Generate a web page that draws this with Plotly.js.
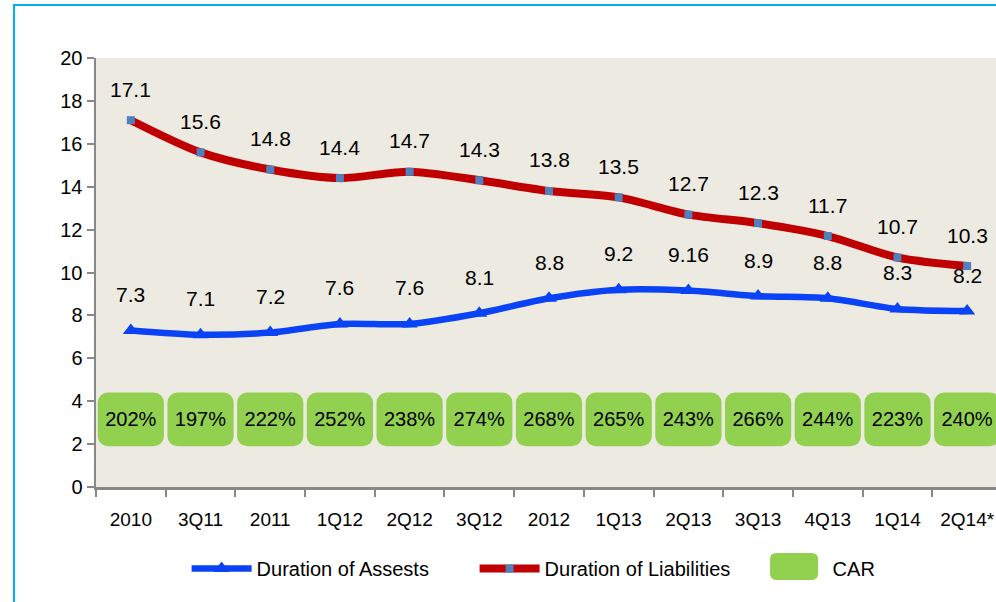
<!DOCTYPE html>
<html>
<head>
<meta charset="utf-8">
<script src="https://cdn.plot.ly/plotly-3.0.1.min.js"></script>
<style>
  html, body { margin: 0; padding: 0; background: #ffffff; overflow: hidden; width: 996px; height: 602px; }
  #frame { position: absolute; left: 13px; top: 4px; width: 1300px; height: 700px; border-left: 2px solid #00B0F0; border-top: 2px solid #00B0F0; }
  #chart { position: absolute; left: 0; top: 0; width: 1200px; height: 602px; }
</style>
</head>
<body>
<div id="frame"></div>
<div id="chart"></div>
<script>
const categories = ["2010","3Q11","2011","1Q12","2Q12","3Q12","2012","1Q13","2Q13","3Q13","4Q13","1Q14","2Q14*"];
const assets = [7.3, 7.1, 7.2, 7.6, 7.6, 8.1, 8.8, 9.2, 9.16, 8.9, 8.8, 8.3, 8.2];
const liabilities = [17.1, 15.6, 14.8, 14.4, 14.7, 14.3, 13.8, 13.5, 12.7, 12.3, 11.7, 10.7, 10.3];
const car = [202, 197, 222, 252, 238, 274, 268, 265, 243, 266, 244, 223, 240];
const yTicks = [0, 2, 4, 6, 8, 10, 12, 14, 16, 18, 20];

const SANS = '"Liberation Sans", Arial, sans-serif';

const boxBase = 1.9, boxHeight = 2.5;

const traces = [
  {
    type: 'scatter', mode: 'lines+markers', name: 'Duration of Assests',
    x: categories, y: assets,
    line: { color: '#0A43F5', width: 6.5, shape: 'spline', smoothing: 0.8 },
    marker: { symbol: 'triangle-up', size: 14, color: '#0A43F5' },
    hoverinfo: 'skip'
  },
  {
    type: 'scatter', mode: 'lines+markers', name: 'Duration of Liabilities',
    x: categories, y: liabilities,
    line: { color: '#C00000', width: 8, shape: 'spline', smoothing: 0.8 },
    marker: { symbol: 'square', size: 8, color: '#4F81BD' },
    hoverinfo: 'skip'
  },
  {
    type: 'bar', name: 'CAR',
    x: categories, y: car.map(() => boxHeight), base: boxBase,
    width: 0.95,
    marker: { color: '#92D050', cornerradius: 10, line: { width: 0 } },
    text: car.map(v => v + '%'),
    textposition: 'inside', insidetextanchor: 'middle', textangle: 0,
    textfont: { family: SANS, size: 20, color: '#000000' },
    constraintext: 'none',
    hoverinfo: 'skip'
  }
];

const annotations = [];
categories.forEach((c, i) => {
  annotations.push({ x: i, y: liabilities[i], text: String(liabilities[i]), showarrow: false, yshift: 31,
    font: { family: SANS, size: 21, color: '#000000' } });
  annotations.push({ x: i, y: assets[i], text: String(assets[i]), showarrow: false, yshift: 36,
    font: { family: SANS, size: 21, color: '#000000' } });
});

// enlarged rounded swatch behind the CAR legend symbol (paper coordinates)
function roundedRectPath(x0, y0, x1, y1, rx, ry) {
  return `M${x0 + rx},${y0} L${x1 - rx},${y0} Q${x1},${y0} ${x1},${y0 + ry} ` +
         `L${x1},${y1 - ry} Q${x1},${y1} ${x1 - rx},${y1} L${x0 + rx},${y1} Q${x0},${y1} ${x0},${y1 - ry} ` +
         `L${x0},${y0 + ry} Q${x0},${y0} ${x0 + rx},${y0} Z`;
}

const layout = {
  width: 1200, height: 602,
  margin: { l: 96, r: 198, t: 58, b: 115 },
  paper_bgcolor: 'rgba(0,0,0,0)',
  plot_bgcolor: '#EDEAE1',
  showlegend: true,
  legend: {
    orientation: 'h', x: 0.1, xanchor: 'left', y: -0.1445, yanchor: 'top',
    font: { family: SANS, size: 20, color: '#000000' },
    traceorder: 'normal', itemwidth: 60, entrywidth: 213, entrywidthmode: 'pixels'
  },
  xaxis: {
    type: 'category', range: [-0.5, 12.5],
    showline: true, linecolor: '#888888', linewidth: 2.5,
    ticks: 'outside', tickson: 'boundaries', ticklen: 7, tickwidth: 2, tickcolor: '#888888',
    ticklabelstandoff: 14,
    tickfont: { family: SANS, size: 19, color: '#000000' },
    showgrid: false, zeroline: false, fixedrange: true
  },
  yaxis: {
    range: [0, 20], tickvals: yTicks, ticktext: yTicks.map(String),
    showline: true, linecolor: '#888888', linewidth: 2.5,
    ticks: 'outside', ticklen: 7, tickwidth: 2, tickcolor: '#888888',
    tickfont: { family: SANS, size: 20, color: '#000000' },
    showgrid: false, zeroline: false, fixedrange: true
  },
  shapes: [
    { type: 'path', xref: 'paper', yref: 'paper', layer: 'above',
      path: roundedRectPath(0.744, -0.2168, 0.797, -0.1538, 0.007, 0.015),
      fillcolor: '#92D050', line: { width: 0 } }
  ],
  bargap: 0.05,
  annotations: annotations
};

Plotly.newPlot('chart', traces, layout, { staticPlot: true, displayModeBar: false });
</script>
</body>
</html>
